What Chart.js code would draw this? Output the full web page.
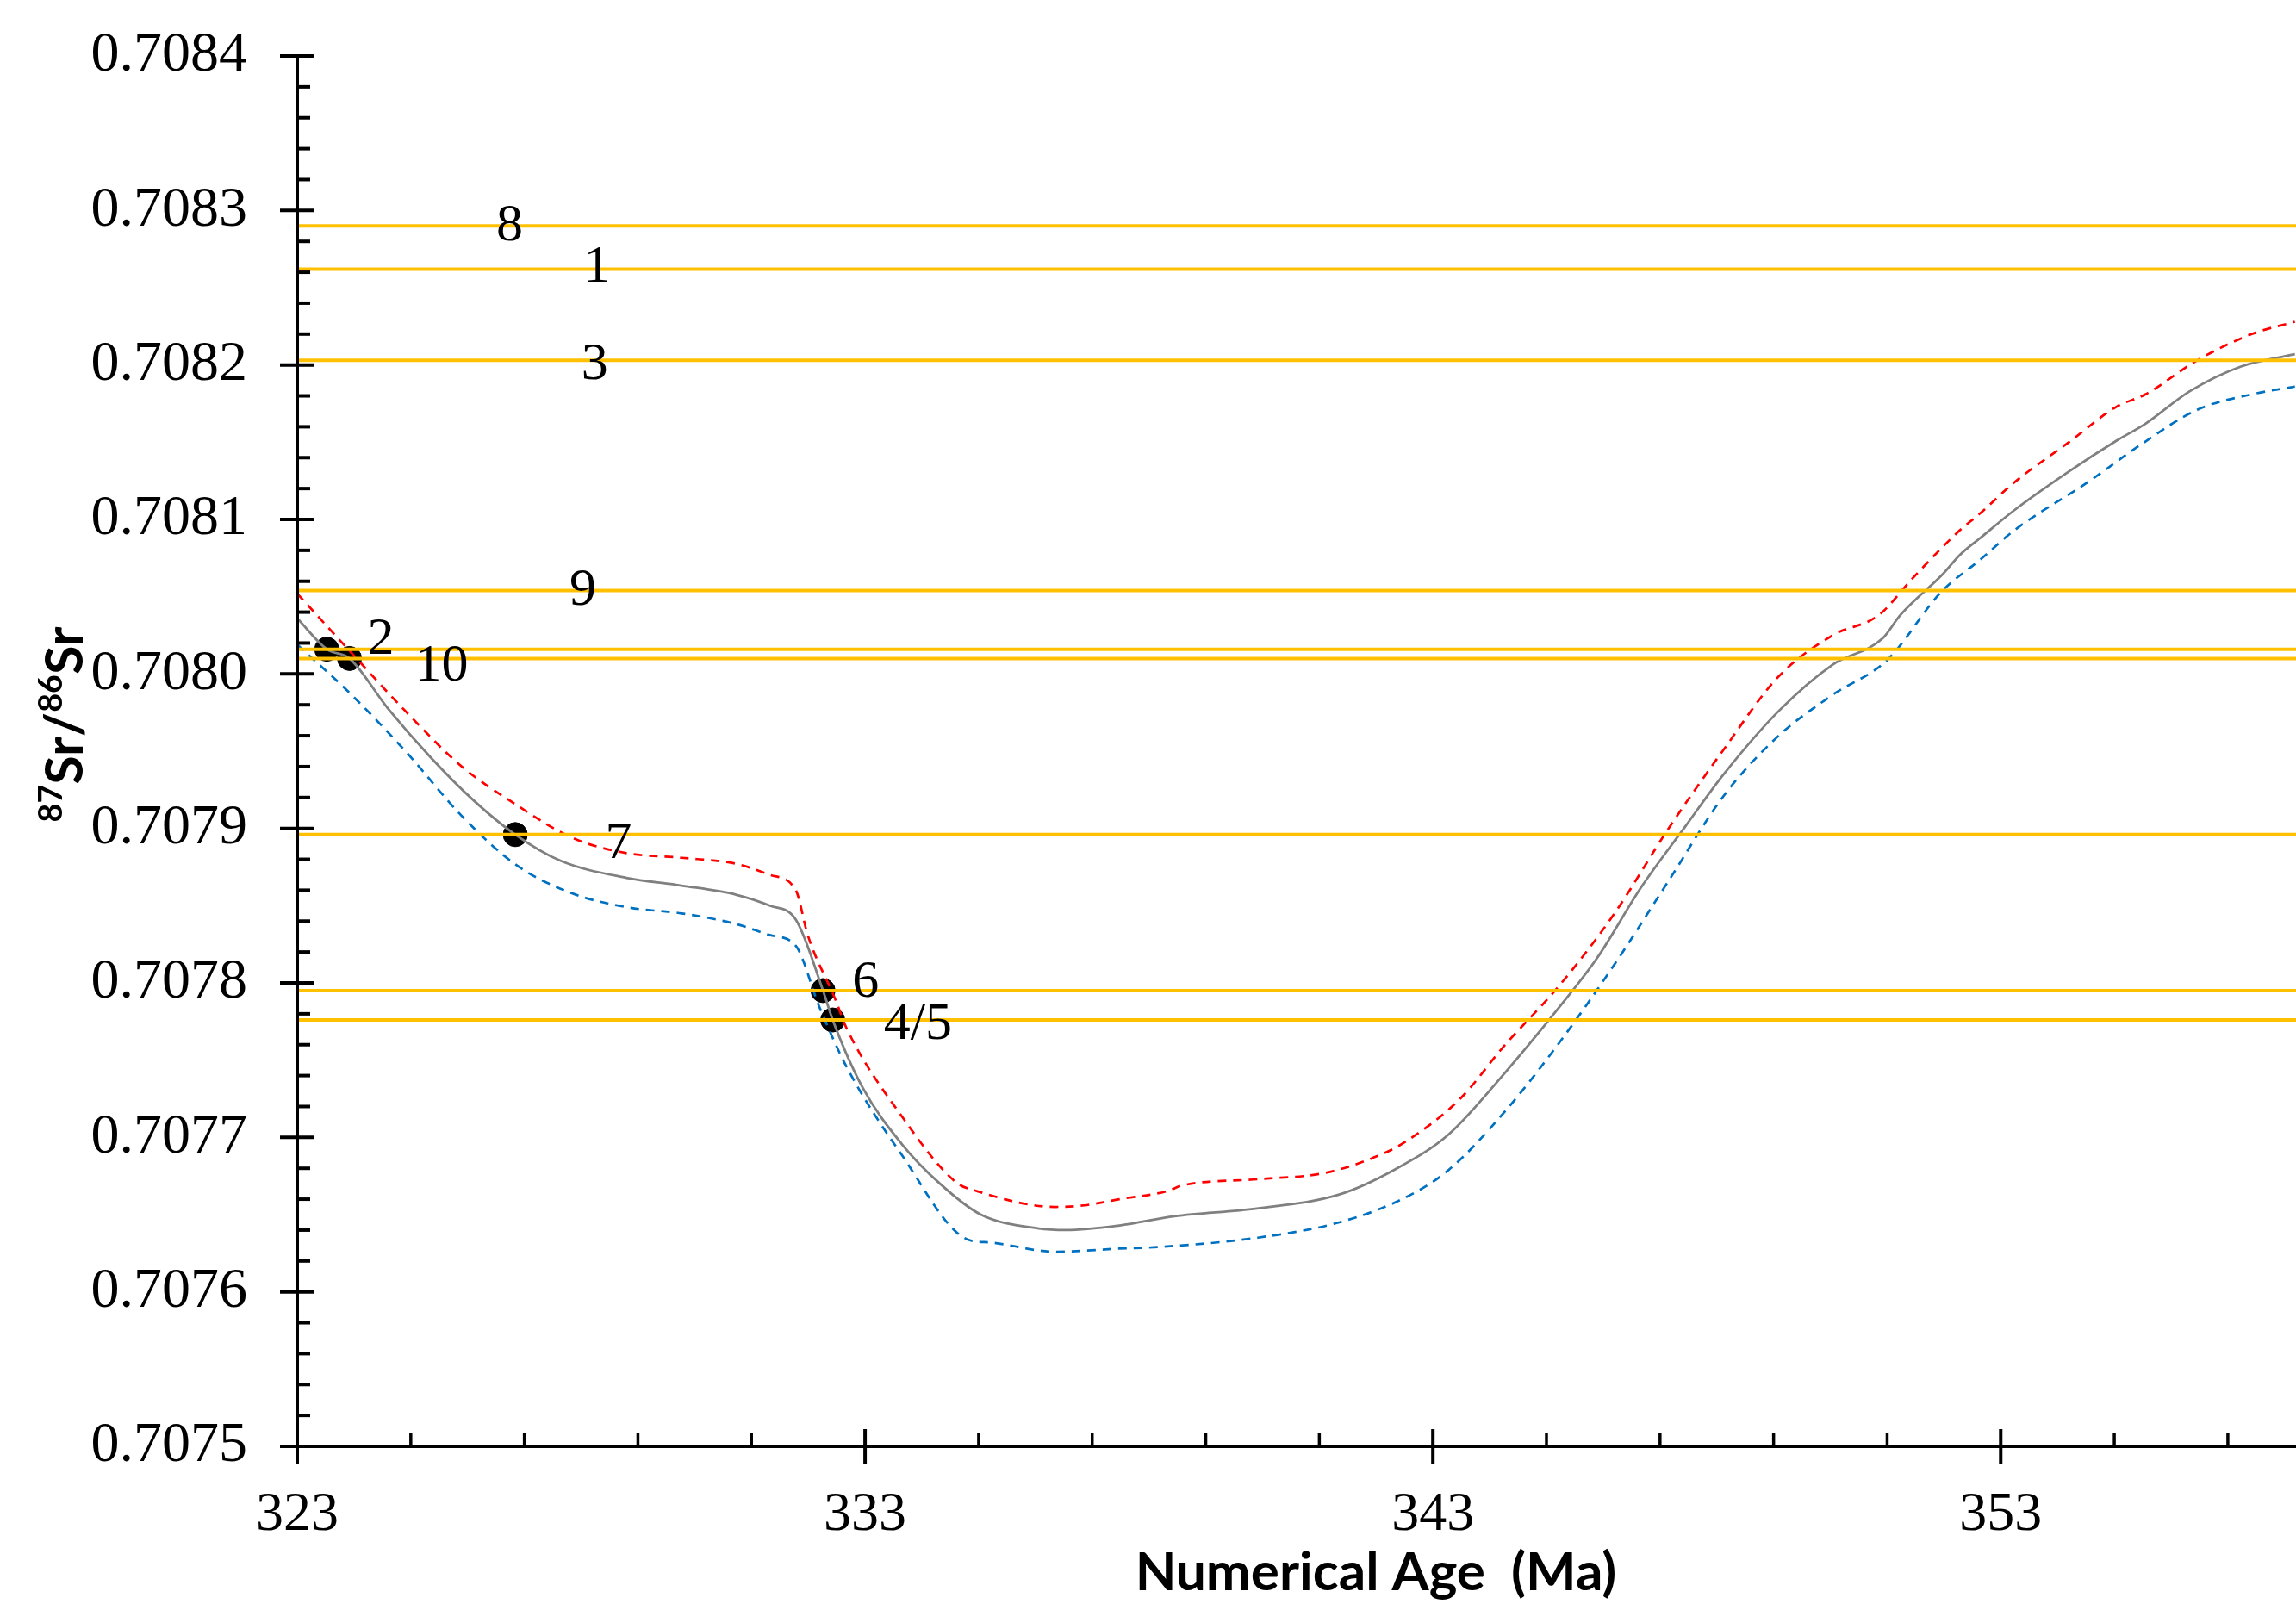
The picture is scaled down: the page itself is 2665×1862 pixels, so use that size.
<!DOCTYPE html>
<html>
<head>
<meta charset="utf-8">
<script src="https://cdn.jsdelivr.net/npm/chart.js@4.4.0/dist/chart.umd.min.js"></script>
<style>
  html, body { margin: 0; padding: 0; background: #fff; }
  #wrap { width: 2665px; height: 1862px; }
</style>
</head>
<body>
<div id="wrap"><canvas id="myChart" width="2665" height="1862"></canvas></div>
<script>
const ageTicks = [323, 333, 343, 353];
const srTicks = [0.7075, 0.7076, 0.7077, 0.7078, 0.7079, 0.708, 0.7081, 0.7082, 0.7083, 0.7084];

// seawater curve (mean) and its upper / lower bounds
const meanAge = [323.0, 323.52, 323.92, 324.59, 325.35, 326.11, 326.84, 327.64, 328.8, 329.77, 330.74, 331.32, 331.78, 332.26, 332.43, 332.96, 333.64, 334.32, 335.04, 336.06, 336.54, 337.48, 338.45, 339.9, 341.35, 342.32, 343.28, 344.25, 345.22, 345.89, 346.67, 347.44, 348.12, 349.09, 350.04, 350.92, 351.23, 351.99, 352.28, 352.64, 353.24, 354.2, 355.04, 355.55, 356.33, 357.23, 358.18];
const meanSr = [0.708036, 0.708016, 0.70801, 0.707978, 0.707946, 0.707918, 0.707896, 0.707879, 0.707868, 0.707863, 0.707857, 0.70785, 0.707841, 0.707795, 0.707776, 0.707732, 0.707696, 0.70767, 0.70765, 0.707641, 0.70764, 0.707643, 0.707649, 0.707654, 0.707663, 0.707679, 0.707702, 0.707741, 0.707784, 0.707816, 0.707862, 0.707901, 0.707935, 0.707976, 0.708006, 0.708023, 0.708038, 0.708065, 0.708077, 0.708088, 0.708106, 0.708131, 0.708151, 0.708162, 0.708183, 0.708199, 0.708207];

const upperAge = [323.0, 323.97, 324.93, 325.9, 326.87, 327.84, 328.8, 329.77, 330.74, 331.32, 331.78, 331.99, 332.48, 332.67, 333.64, 334.6, 334.99, 336.35, 336.86, 337.48, 338.3, 338.6, 339.95, 341.1, 342.03, 342.51, 343.48, 344.25, 345.22, 346.18, 347.15, 348.12, 349.08, 350.04, 350.85, 351.45, 352.28, 352.64, 353.24, 354.2, 355.04, 355.55, 356.46, 357.42, 358.18];
const upperSr = [0.708052, 0.708013, 0.707975, 0.70794, 0.707915, 0.707894, 0.707884, 0.707881, 0.707877, 0.70787, 0.70786, 0.707831, 0.707789, 0.707771, 0.707714, 0.707671, 0.707665, 0.707655, 0.707656, 0.70766, 0.707665, 0.707669, 0.707673, 0.707677, 0.707688, 0.707697, 0.707725, 0.707759, 0.707798, 0.707844, 0.7079, 0.707951, 0.707998, 0.708025, 0.708038, 0.708062, 0.708093, 0.708104, 0.708124, 0.70815, 0.708173, 0.708181, 0.708203, 0.70822, 0.708228];

const lowerAge = [323.0, 323.97, 324.93, 325.9, 326.87, 327.84, 328.8, 329.77, 330.74, 331.32, 331.78, 332.19, 332.67, 333.64, 334.8, 335.19, 336.35, 337.48, 338.16, 339.9, 341.35, 342.51, 343.28, 344.25, 345.22, 346.18, 347.15, 348.12, 349.06, 350.02, 351.0, 351.95, 352.64, 353.24, 354.53, 355.49, 356.46, 357.42, 358.18];
const lowerSr = [0.708019, 0.707986, 0.707949, 0.707908, 0.707876, 0.707858, 0.707849, 0.707845, 0.707838, 0.707831, 0.707824, 0.707785, 0.707746, 0.707689, 0.707634, 0.707632, 0.707626, 0.707628, 0.707629, 0.707635, 0.707645, 0.707661, 0.707679, 0.707716, 0.707761, 0.707811, 0.707866, 0.707921, 0.707959, 0.707986, 0.708009, 0.708053, 0.708074, 0.708093, 0.708124, 0.708149, 0.708171, 0.708181, 0.708186];

// samples: measured ratios (yellow lines) and their label anchors
const sampleNames = ["8", "1", "3", "9", "2", "10", "7", "6", "4/5"];
const sampleSr = [0.70829, 0.708262, 0.708203, 0.708054, 0.708016, 0.70801, 0.707896, 0.707795, 0.707776];
const labelAge = [326.74, 328.28, 328.24, 328.03, 324.47, 325.54, 328.66, 333.01, 333.93];
const labelSr = [0.70829, 0.708263, 0.7082, 0.708054, 0.708022, 0.708005, 0.70789, 0.7078, 0.707773];

// samples that fall on the curve
const dotAge = [323.52, 323.92, 326.84, 332.26, 332.43];
const dotSr = [0.708016, 0.70801, 0.707896, 0.707795, 0.707776];

const ageMin = 323, ageMax = 358.2;

function pts(xs, ys) {
  const out = [];
  for (let i = 0; i < xs.length; i++) out.push({ x: xs[i], y: ys[i] });
  return out;
}

const datasets = [];
sampleSr.forEach((v, i) => {
  datasets.push({
    label: "sample " + sampleNames[i],
    data: [{ x: ageMin, y: v }, { x: ageMax, y: v }],
    showLine: true,
    borderColor: "#FFC000",
    borderWidth: 4,
    pointRadius: 0,
  });
});
datasets.push({
  label: "upper",
  data: pts(upperAge, upperSr),
  showLine: true,
  borderColor: "#FF0000",
  borderWidth: 2.7,
  borderDash: [10, 8],
  pointRadius: 0,
  cubicInterpolationMode: "monotone",
});
datasets.push({
  label: "lower",
  data: pts(lowerAge, lowerSr),
  showLine: true,
  borderColor: "#0070C0",
  borderWidth: 2.7,
  borderDash: [10, 8],
  pointRadius: 0,
  cubicInterpolationMode: "monotone",
});
datasets.push({
  label: "mean",
  data: pts(meanAge, meanSr),
  showLine: true,
  borderColor: "#808080",
  borderWidth: 2.8,
  pointRadius: 0,
  cubicInterpolationMode: "monotone",
});
datasets.push({
  label: "samples",
  data: pts(dotAge, dotSr),
  showLine: false,
  pointRadius: 14,
  pointBackgroundColor: "#000",
  pointBorderColor: "#000",
  pointBorderWidth: 1,
});

// axes with major/minor tick marks, drawn on top of the lines
const axesPlugin = {
  id: "axesPlugin",
  afterDatasetsDraw(chart) {
    const { ctx, chartArea: a, scales: { x, y } } = chart;
    ctx.save();
    ctx.strokeStyle = "#000";
    ctx.lineWidth = 4;
    ctx.beginPath();
    ctx.moveTo(a.left, a.top);
    ctx.lineTo(a.left, a.bottom);
    ctx.moveTo(a.left, a.bottom);
    ctx.lineTo(a.right, a.bottom);
    ctx.stroke();

    srTicks.forEach((v) => {
      const py = y.getPixelForValue(v);
      ctx.beginPath();
      ctx.moveTo(a.left - 20, py);
      ctx.lineTo(a.left + 20, py);
      ctx.stroke();
    });
    for (let i = 0; i <= 45; i++) {
      if (i % 5 === 0) continue;
      const py = y.getPixelForValue(0.7075 + i * 0.00002);
      ctx.beginPath();
      ctx.moveTo(a.left, py);
      ctx.lineTo(a.left + 15, py);
      ctx.stroke();
    }
    ageTicks.forEach((v) => {
      const px = x.getPixelForValue(v);
      ctx.beginPath();
      ctx.moveTo(px, a.bottom - 20);
      ctx.lineTo(px, a.bottom + 20);
      ctx.stroke();
    });
    ctx.lineWidth = 3.5;
    for (let v = 325; v < ageMax; v += 2) {
      if ((v - 323) % 10 === 0) continue;
      const px = x.getPixelForValue(v);
      ctx.beginPath();
      ctx.moveTo(px, a.bottom - 15);
      ctx.lineTo(px, a.bottom);
      ctx.stroke();
    }

    // sample labels
    ctx.fillStyle = "#000";
    ctx.font = "62px 'Liberation Serif', 'Times New Roman', serif";
    ctx.textAlign = "center";
    ctx.textBaseline = "middle";
    sampleNames.forEach((n, i) => {
      ctx.fillText(n, x.getPixelForValue(labelAge[i]), y.getPixelForValue(labelSr[i]));
    });

    // x title
    ctx.font = "bold 62px Lato, 'Open Sans', sans-serif";
    ctx.textBaseline = "alphabetic";
    ctx.fillText("Numerical Age  (Ma)", (a.left + a.right) / 2 + 92, 1846);

    // y title with superscripts, rotated, fitted to its length in the figure
    ctx.save();
    ctx.translate(96, (a.top + a.bottom) / 2 - 31);
    ctx.rotate(-Math.PI / 2);
    ctx.textAlign = "left";
    const parts = [["87", 0.62, -0.4], ["Sr", 1, 0], ["/", 1, 0], ["86", 0.62, -0.4], ["Sr", 1, 0]];
    let size = 64;
    const font = (k) => "bold " + (size * k).toFixed(1) + "px Lato, 'Open Sans', sans-serif";
    let total = 0;
    parts.forEach((p) => { ctx.font = font(p[1]); total += ctx.measureText(p[0]).width; });
    size = size * 227 / total;
    total = 0;
    parts.forEach((p) => { ctx.font = font(p[1]); total += ctx.measureText(p[0]).width; });
    let cx = -total / 2;
    parts.forEach((p) => {
      ctx.font = font(p[1]);
      ctx.fillText(p[0], cx, p[2] * size);
      cx += ctx.measureText(p[0]).width;
    });
    ctx.restore();
    ctx.restore();
  },
};

const config = {
  type: "scatter",
  data: { datasets: datasets },
  options: {
    responsive: false,
    animation: false,
    layout: { autoPadding: false, padding: { top: 65, right: 0, bottom: 0, left: 0 } },
    plugins: { legend: { display: false }, tooltip: { enabled: false } },
    scales: {
      x: {
        type: "linear",
        min: ageMin,
        max: ageMax,
        grid: { display: false, drawTicks: false },
        border: { display: false },
        afterBuildTicks: (scale) => { scale.ticks = ageTicks.map((v) => ({ value: v })); },
        afterFit: (scale) => {
          scale.height = 183;
          scale.paddingLeft = 0;
          scale.paddingRight = 0;
        },
        ticks: {
          padding: 42,
          color: "#000",
          font: { family: "'Liberation Serif', 'Times New Roman', serif", size: 64 },
          callback: (v) => String(v),
        },
      },
      y: {
        type: "linear",
        min: 0.7075,
        max: 0.7084,
        grid: { display: false, drawTicks: false },
        border: { display: false },
        afterBuildTicks: (scale) => { scale.ticks = srTicks.map((v) => ({ value: v })); },
        afterFit: (scale) => {
          scale.width = 345;
          scale.paddingTop = 0;
          scale.paddingBottom = 0;
        },
        ticks: {
          padding: 58,
          color: "#000",
          font: { family: "'Liberation Serif', 'Times New Roman', serif", size: 66 },
          callback: (v) => v.toFixed(4),
        },
      },
    },
  },
  plugins: [axesPlugin],
};

let myChart = new Chart(document.getElementById("myChart"), config);
</script>
</body>
</html>
